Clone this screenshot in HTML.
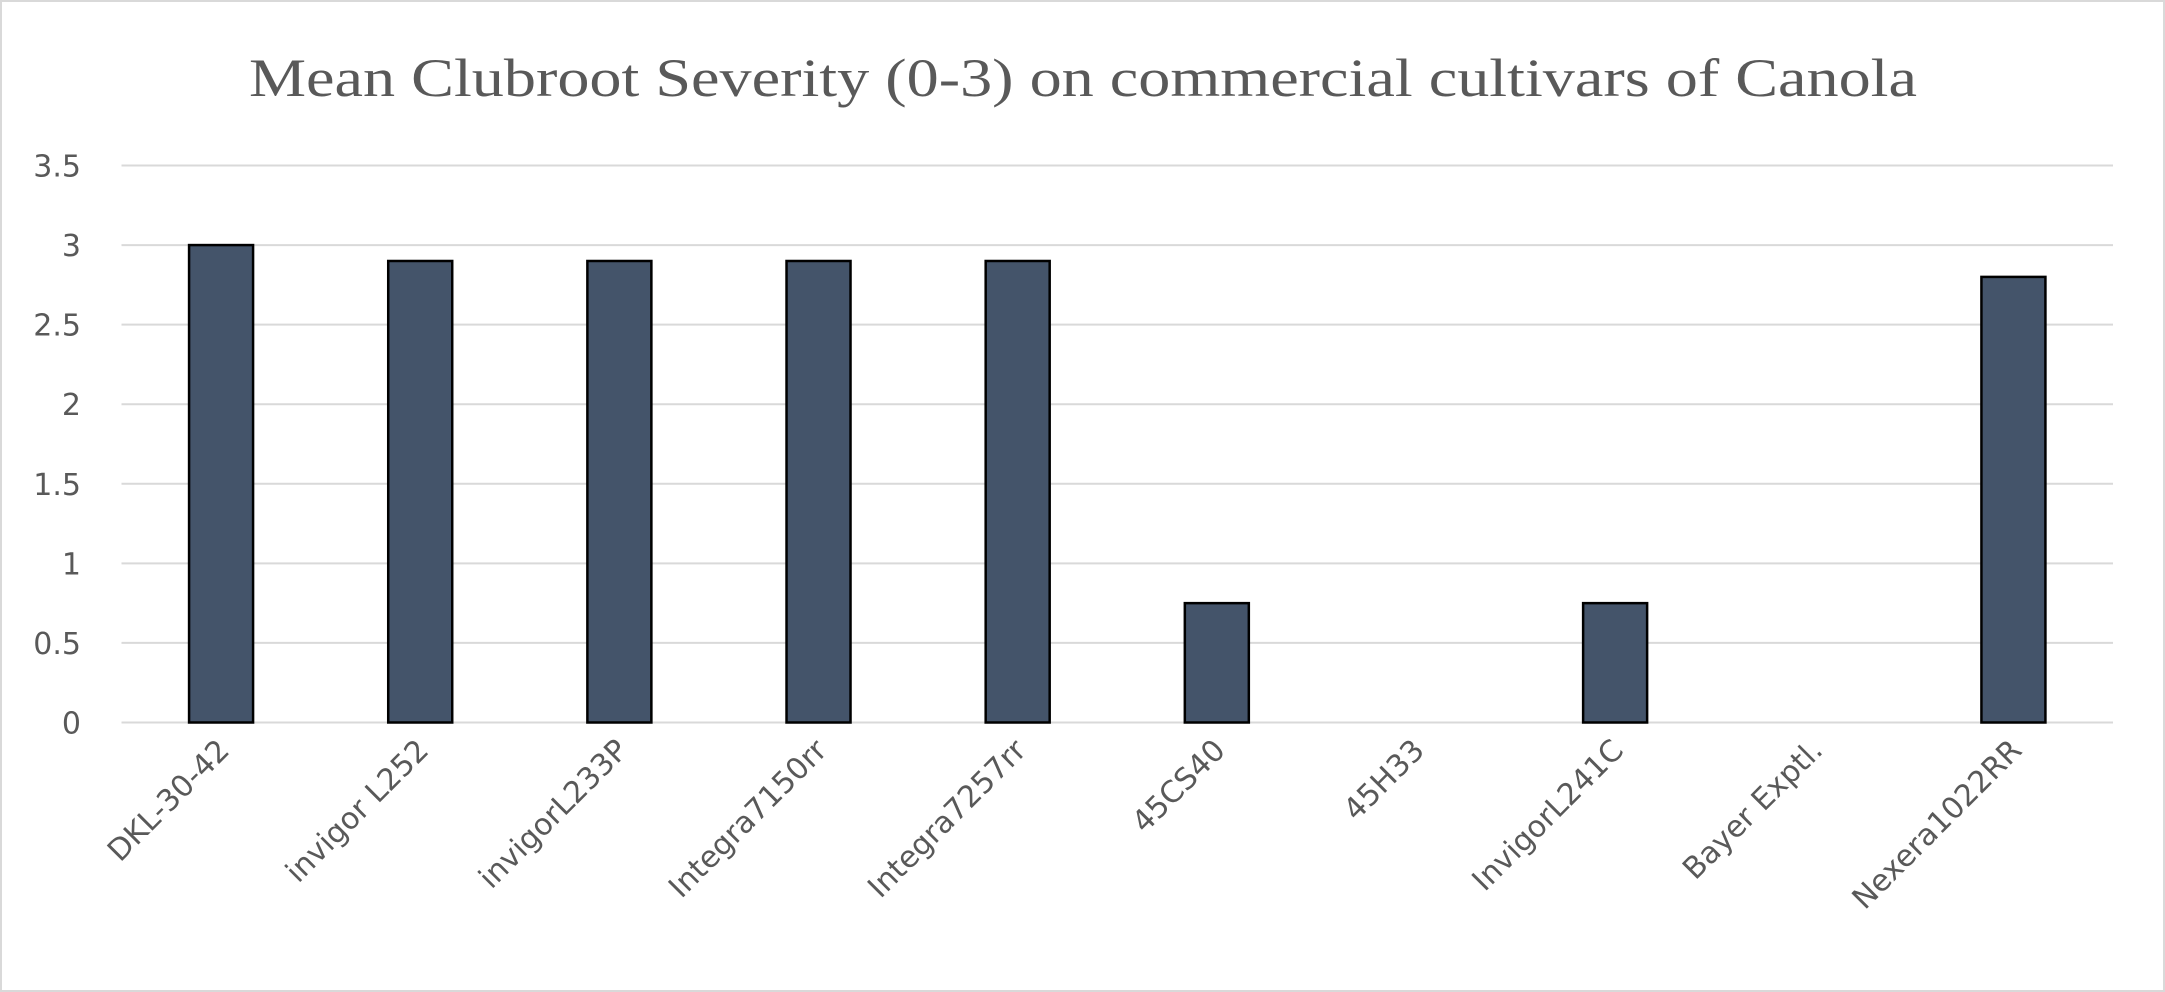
<!DOCTYPE html>
<html><head><meta charset="utf-8"><style>html,body{margin:0;padding:0;background:#fff}svg{display:block}</style></head>
<body>
<svg id="chart" width="2165" height="992" xmlns="http://www.w3.org/2000/svg">
<rect x="1" y="1" width="2163" height="990" fill="#fff" stroke="#d9d9d9" stroke-width="2"/>
<text x="1083" y="96" text-anchor="middle" font-family="Liberation Serif, serif" font-size="54" fill="#595959" textLength="1668" lengthAdjust="spacingAndGlyphs">Mean Clubroot Severity (0-3) on commercial cultivars of Canola</text>
<g id="grid"></g><g id="bars"></g><g id="ylabels"></g><g id="xlabels"></g>
</svg>
<script>
const categories = ["DKL-30-42","invigor L252","invigorL233P","Integra7150rr","Integra7257rr","45CS40","45H33","InvigorL241C","Bayer Exptl.","Nexera1022RR"];
const values = [3, 2.9, 2.9, 2.9, 2.9, 0.75, 0, 0.75, 0, 2.8];
const yTicks = [0, 0.5, 1, 1.5, 2, 2.5, 3, 3.5];
const yTickLabels = ["0","0.5","1","1.5","2","2.5","3","3.5"];
const NS="http://www.w3.org/2000/svg";
const L=121.5,R=2113,Y0=722.5,Y35=165.5,yMax=3.5;
const y=v=>Y0-(v/yMax)*(Y0-Y35);
const step=(R-L)/categories.length;
const x=i=>L+step*(i+0.5);
const bw=64;
function mk(t,a,p){const e=document.createElementNS(NS,t);for(const k in a)e.setAttribute(k,a[k]);document.getElementById(p).appendChild(e);return e;}
yTicks.forEach((v,i)=>{
  const g=mk('line',{x1:L,x2:R,y1:y(v),y2:y(v),stroke:'#d9d9d9','stroke-width':2},'grid');
  
  
  const t=mk('text',{x:81,y:y(v)+11,'text-anchor':'end','font-family':'DejaVu Sans, sans-serif','font-size':30,fill:'#595959'},'ylabels');
  t.textContent=yTickLabels[i];
  
  
});
categories.forEach((c,i)=>{
  if(values[i]>0){
    const b=mk('rect',{x:x(i)-bw/2,y:y(values[i]),width:bw,height:Y0-y(values[i]),fill:'#44546a',stroke:'#000','stroke-width':2.5},'bars');
    
    
  }
  const t=mk('text',{x:x(i)+10,y:752,'text-anchor':'end','font-family':'DejaVu Sans, sans-serif','font-size':30,fill:'#595959',transform:`rotate(-45 ${x(i)+10} 752)`},'xlabels');
  t.textContent=c;
  
  
});
</script>
</body></html>
